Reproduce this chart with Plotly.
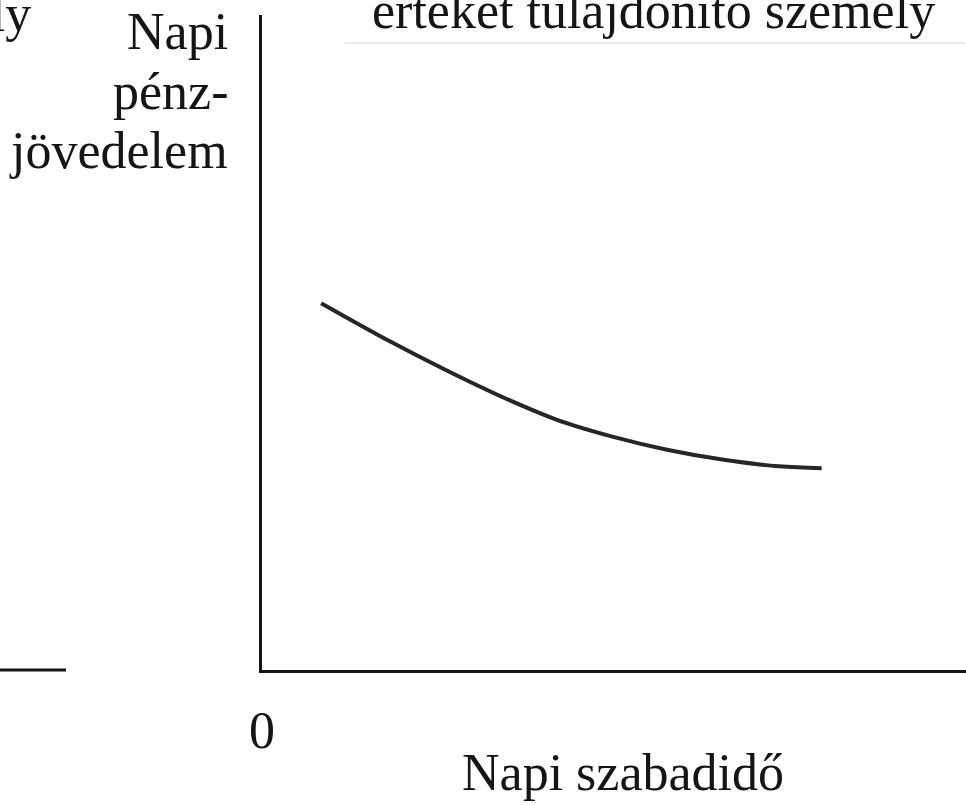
import plotly.graph_objects as go

# curve (axis units 0-100)
freeTime = [8.4, 18.3, 26.1, 34.1, 41.9, 49.9, 57.7, 65.6, 73.4, 79.5]
income = [56.0, 50.1, 45.8, 41.7, 38.2, 35.6, 33.6, 32.1, 31.1, 30.8]

xTicks = [0]
xTickText = ['0']

yLabelLines = ['Napi', 'pénz-', 'jövedelem']
xLabel = 'Napi szabadidő'
titleText = 'értéket tulajdonító személy'
leftPanelText = 'személy'

W, H = 966, 805
L, R, T, B = 262, 0, 15, 135
FONT = 'Liberation Serif'
SIZE = 52
INK = '#151515'


def px(xPix):
    '''Page x pixel -> paper coordinate.'''
    return (xPix - L) / (W - L - R)


def py(yPix):
    '''Page y pixel -> paper coordinate.'''
    return (H - B - yPix) / (H - B - T)


fig = go.Figure(go.Scatter(
    x=freeTime, y=income, mode='lines',
    line=dict(color='#262626', width=4, shape='spline', smoothing=1.0),
    hoverinfo='skip',
))

fig.update_layout(
    width=W, height=H,
    margin=dict(l=L, r=R, t=T, b=B),
    paper_bgcolor='white', plot_bgcolor='white',
    showlegend=False,
    font=dict(family=FONT, size=SIZE, color=INK),
)
fig.update_xaxes(
    range=[0, 100], showgrid=False, zeroline=False,
    showline=True, linecolor=INK, linewidth=3,
    tickvals=xTicks, ticktext=xTickText, ticks='',
    ticklabelstandoff=13,
    tickfont=dict(family=FONT, size=SIZE, color=INK),
)
fig.update_yaxes(
    range=[0, 100], showgrid=False, zeroline=False,
    showline=True, linecolor=INK, linewidth=3,
    showticklabels=False, ticks='',
)

# y label, right aligned, one line each (centres in page pixels)
for text, mid in zip(yLabelLines, [32, 91, 151]):
    fig.add_annotation(
        text=text, xref='paper', yref='paper',
        x=px(230), y=py(mid), xanchor='right', yanchor='middle',
        showarrow=False, font=dict(size=SIZE),
    )

fig.add_annotation(
    text=xLabel, xref='paper', yref='paper',
    x=px(623), y=py(772), xanchor='center', yanchor='middle',
    showarrow=False, font=dict(size=SIZE),
)
fig.add_annotation(
    text=titleText, xref='paper', yref='paper',
    x=px(653), y=py(11), xanchor='center', yanchor='middle',
    showarrow=False, font=dict(size=SIZE),
)
# neighbouring panel, cut off at the left edge
fig.add_annotation(
    text=leftPanelText, xref='paper', yref='paper',
    x=px(33), y=py(13), xanchor='right', yanchor='middle',
    showarrow=False, font=dict(size=SIZE),
)
fig.add_shape(
    type='line', xref='paper', yref='paper',
    x0=px(0), x1=px(66), y0=0, y1=0,
    line=dict(color=INK, width=3),
)
# faint rule from the scan under the title
fig.add_shape(
    type='line', xref='paper', yref='paper',
    x0=px(345), x1=px(966), y0=py(43), y1=py(43),
    line=dict(color='#ececec', width=2),
)

fig.write_html(
    'out.html',
    config={'displayModeBar': False},
    post_script="document.body.style.margin='0';document.body.style.overflow='hidden';",
)
